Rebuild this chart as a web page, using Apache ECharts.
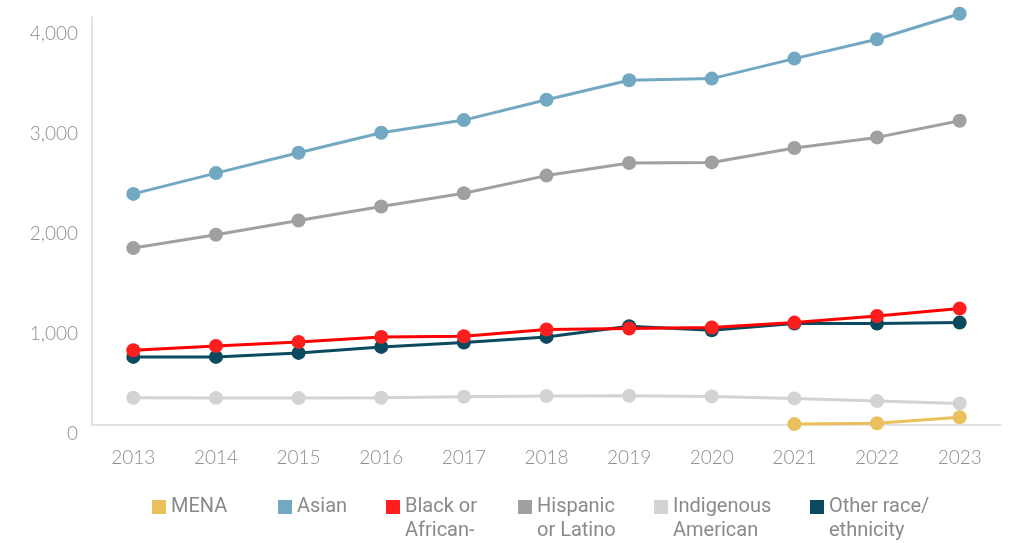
<!DOCTYPE html>
<html>
<head>
<meta charset="utf-8">
<script src="https://cdn.jsdelivr.net/npm/echarts@6/dist/echarts.min.js"></script>
<style>
  html, body { margin: 0; padding: 0; background: #ffffff; }
  #chart { width: 1016px; height: 543px; }
</style>
</head>
<body>
<div id="chart"></div>
<script>
// Years on the horizontal axis
const years = ['2013', '2014', '2015', '2016', '2017', '2018', '2019', '2020', '2021', '2022', '2023'];

// Counts per group and year (MENA reported from 2021 on)
const mena       = [null, null, null, null, null, null, null, null, 4, 12, 72];
const asian      = [2306, 2514, 2718, 2918, 3044, 3247, 3443, 3459, 3659, 3852, 4108];
const black      = [743, 786, 826, 876, 883, 950, 960, 970, 1019, 1085, 1159];
const hispanic   = [1764, 1897, 2040, 2180, 2312, 2489, 2615, 2621, 2765, 2871, 3037];
const indigenous = [267, 266, 265, 268, 277, 284, 287, 281, 261, 234, 211];
const other      = [676, 676, 716, 776, 820, 876, 983, 943, 1009, 1009, 1019];

// Legend entries, in display order, with their wrapped labels
const legendNames  = ['MENA', 'Asian', 'Black or African-', 'Hispanic or Latino', 'Indigenous American', 'Other race/ethnicity'];
const legendLabels = ['MENA', 'Asian', 'Black or\nAfrican-', 'Hispanic\nor Latino', 'Indigenous\nAmerican', 'Other race/\nethnicity'];
const legendLeft   = [152, 278, 386, 518, 654, 810];

const colors = {
  'MENA': '#E9C05C',
  'Asian': '#72A8C2',
  'Black or African-': '#FF1E1E',
  'Hispanic or Latino': '#A0A0A0',
  'Indigenous American': '#D3D3D3',
  'Other race/ethnicity': '#0B4A5E'
};
const lineColors = Object.assign({}, colors, { 'Black or African-': '#FF0000' });

function lineSeries(name, data) {
  return {
    name: name,
    type: 'line',
    data: data,
    symbol: 'circle',
    symbolSize: 14,
    clip: false,
    connectNulls: false,
    itemStyle: { color: colors[name] },
    lineStyle: { color: lineColors[name], width: 3 },
    emphasis: { disabled: true }
  };
}

// Every legend label is laid out as three lines (blank, first, second) so the
// swatch, which sits at the vertical middle, lines up with the first line.
function legendText(label) {
  const parts = label.split('\n');
  return '\u00a0\n' + parts[0] + '\n' + (parts[1] || '\u00a0');
}

const chart = echarts.init(document.getElementById('chart'), null, { renderer: 'canvas' });

const legends = legendNames.map(function (name, i) {
  return {
    data: [name],
    left: legendLeft[i],
    top: 471,
    padding: 0,
    orient: 'horizontal',
    icon: 'rect',
    itemWidth: 14,
    itemHeight: 14,
    selectedMode: false,
    formatter: function () { return legendText(legendLabels[i]); },
    textStyle: {
      fontFamily: 'Roboto',
      fontSize: 20,
      color: '#8a8a8a',
      lineHeight: 24
    }
  };
});

chart.setOption({
  animation: false,
  backgroundColor: '#ffffff',
  color: legendNames.map(function (n) { return colors[n]; }),
  legend: legends,
  grid: { left: 92, right: 15, top: 17, bottom: 118.5, containLabel: false },
  xAxis: {
    type: 'category',
    data: years,
    boundaryGap: true,
    axisLine: { show: true, lineStyle: { color: '#d9d9d9', width: 1.5 } },
    axisTick: { show: false },
    axisLabel: {
      margin: 24,
      fontFamily: 'Lato',
      fontWeight: 300,
      fontSize: 19,
      color: '#8e8e8e'
    },
    splitLine: { show: false }
  },
  yAxis: {
    type: 'value',
    min: 0,
    max: 4075,
    interval: 1000,
    axisLine: { show: true, lineStyle: { color: '#d9d9d9', width: 1.5 } },
    axisTick: { show: false },
    splitLine: { show: false },
    axisLabel: {
      showMaxLabel: false,
      margin: 14,
      verticalAlign: 'top',
      lineHeight: 19,
      fontFamily: 'Lato',
      fontWeight: 300,
      fontSize: 19,
      color: '#8e8e8e',
      formatter: function (v) { return v.toLocaleString('en-US'); }
    }
  },
  series: [
    lineSeries('Asian', asian),
    lineSeries('Hispanic or Latino', hispanic),
    lineSeries('Indigenous American', indigenous),
    lineSeries('MENA', mena),
    lineSeries('Other race/ethnicity', other),
    lineSeries('Black or African-', black)
  ]
});
</script>
</body>
</html>
